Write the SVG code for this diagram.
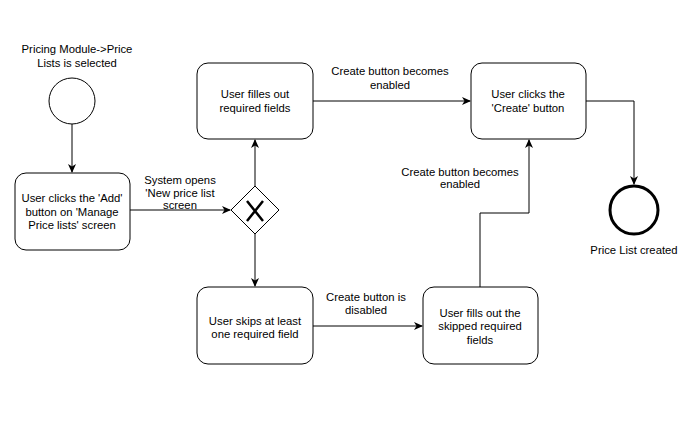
<svg xmlns="http://www.w3.org/2000/svg" width="691" height="428" viewBox="0 0 691 428">
<style>
text{font-family:"Liberation Sans",Arial,sans-serif;font-size:11.3px;fill:#000;text-anchor:middle}
.box{fill:#fff;stroke:#000;stroke-width:1}
.edge{fill:none;stroke:#000;stroke-width:1}
</style>
<defs>
<marker id="arr" markerWidth="10" markerHeight="10" refX="8" refY="4" orient="auto" markerUnits="userSpaceOnUse" viewBox="0 0 10 8">
<path d="M0,0 L9,4 L0,8 L2.5,4 Z" fill="#000"/>
</marker>
</defs>
<rect width="691" height="428" fill="#fff"/>
<g id="connectors">
<path class="edge" d="M72,124 V172" marker-end="url(#arr)"/>
<path class="edge" d="M130,210 H230" marker-end="url(#arr)"/>
<path class="edge" d="M255,186 V140" marker-end="url(#arr)"/>
<path class="edge" d="M255,234 V286" marker-end="url(#arr)"/>
<path class="edge" d="M313,101 H470" marker-end="url(#arr)"/>
<path class="edge" d="M313,326 H422" marker-end="url(#arr)"/>
<path class="edge" d="M480,287 V213 H529 V140" marker-end="url(#arr)"/>
<path class="edge" d="M586,101 H634 V184" marker-end="url(#arr)"/>
<text x="180" y="184">System opens</text>
<text x="180" y="197">'New price list</text>
<text x="180" y="209">screen</text>
<text x="390" y="75">Create button becomes</text>
<text x="390" y="89">enabled</text>
<text x="366" y="301">Create button is</text>
<text x="366" y="314">disabled</text>
<text x="460" y="176">Create button becomes</text>
<text x="460" y="188">enabled</text>
</g>
<g id="start">
<circle cx="72" cy="101" r="23" fill="#fff" stroke="#000" stroke-width="1"/>
<text x="77" y="53">Pricing Module-&gt;Price</text>
<text x="77" y="67">Lists is selected</text>
</g>
<g id="add">
<rect class="box" x="15" y="173" width="115" height="77" rx="11"/>
<text x="72" y="202">User clicks the 'Add'</text>
<text x="72" y="216">button on 'Manage</text>
<text x="72" y="229">Price lists' screen</text>
</g>
<g id="gateway">
<path d="M255,186 L279,210 L255,234 L231,210 Z" fill="#fff" stroke="#000" stroke-width="1"/>
<path d="M247,201 L263,221 M263,201 L247,221" stroke="#000" stroke-width="2.5" fill="none"/>
</g>
<g id="fill">
<rect class="box" x="197" y="63" width="116" height="76" rx="11"/>
<text x="255" y="98">User filles out</text>
<text x="255" y="112">required fields</text>
</g>
<g id="create">
<rect class="box" x="471" y="63" width="115" height="76" rx="11"/>
<text x="528" y="98">User clicks the</text>
<text x="528" y="112">'Create' button</text>
</g>
<g id="skip">
<rect class="box" x="197" y="287" width="116" height="77" rx="11"/>
<text x="255" y="325">User skips at least</text>
<text x="255" y="338">one required field</text>
</g>
<g id="fillskipped">
<rect class="box" x="423" y="287" width="115" height="77" rx="11"/>
<text x="480" y="317">User fills out the</text>
<text x="480" y="330">skipped required</text>
<text x="480" y="344">fields</text>
</g>
<g id="end">
<circle cx="634" cy="210" r="24" fill="#fff" stroke="#000" stroke-width="3"/>
<text x="634" y="254">Price List created</text>
</g>
</svg>
